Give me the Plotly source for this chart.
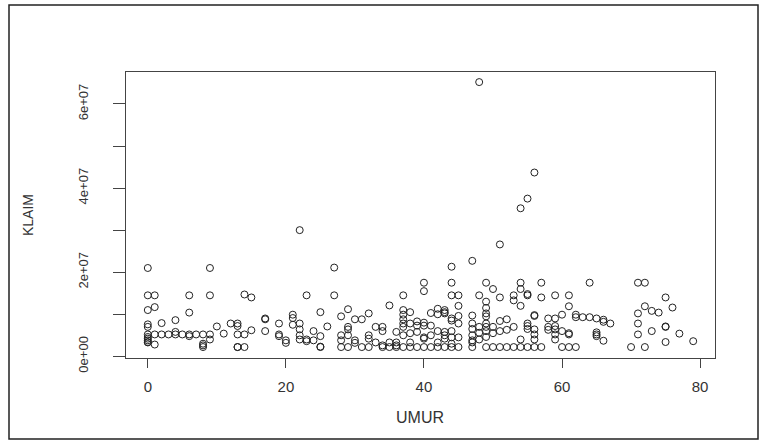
import plotly.graph_objects as go

# UMUR (age) -> list of KLAIM values (in millions)
klaim_by_umur = {
    0: [21, 14.5, 11, 7.6, 7.0, 5.2, 4.6, 4.2, 3.8, 3.4, 3.3],
    1: [14.5, 11.7, 5.2, 2.8],
    2: [7.9, 5.2],
    3: [5.2],
    4: [8.6, 5.8, 5.2],
    5: [5.2],
    6: [14.5, 10.4, 5.2, 4.8],
    7: [5.2],
    8: [5.2, 3.0, 2.6, 2.2],
    9: [21, 14.5, 5.2, 4.0],
    10: [7.1],
    11: [5.4],
    12: [7.8],
    13: [7.8, 7.2, 5.2, 2.2, 2.2],
    14: [14.7, 5.2, 2.2],
    15: [14.0, 6.2],
    17: [9.0, 8.8, 6.0],
    19: [7.8, 5.2, 4.8],
    20: [3.8, 3.2],
    21: [9.9, 9.1, 7.5],
    22: [30, 7.8, 6.4, 5.0, 4.0],
    23: [14.5, 4.0, 3.6],
    24: [6.0, 3.8],
    25: [10.5, 4.8, 2.3, 2.2],
    26: [7.1],
    27: [21.1, 14.5],
    28: [9.5, 5.0, 3.8, 2.2],
    29: [11.2, 7.0, 6.4, 5.0, 2.2],
    30: [8.8, 3.8, 3.2],
    31: [8.8, 2.2],
    32: [10.2, 5.0, 4.2, 2.2],
    33: [7.0, 3.3],
    34: [7.0, 6.0, 2.6, 2.2],
    35: [12.1, 3.3, 2.2],
    36: [5.8, 3.3, 2.6, 2.2],
    37: [14.5, 11.0, 9.9, 8.8, 7.8, 7.0, 5.0, 2.2],
    38: [10.5, 7.8, 5.5, 3.3, 2.2],
    39: [8.3, 7.3, 5.8, 2.2],
    40: [17.5, 15.5, 8.0, 7.3, 4.5, 4.2, 2.2],
    41: [10.3, 7.3, 5.0, 2.2],
    42: [11.3, 10.0, 6.0, 3.3, 2.2],
    43: [11.0, 10.5, 10.2, 5.8, 5.0, 4.2, 2.2],
    44: [21.3, 17.5, 14.5, 9.0, 8.5, 6.0, 4.5, 3.0, 2.2],
    45: [14.5, 12.0, 9.6, 7.8, 4.5, 2.2],
    47: [22.7, 9.7, 7.8, 6.5, 5.0, 3.8, 3.3, 2.2],
    48: [65.2, 14.5, 7.0, 5.6, 4.0],
    49: [17.5, 13.0, 11.5, 10.2, 9.5, 7.8, 7.0, 6.0, 4.6, 2.2],
    50: [16.0, 7.0, 5.5, 2.2],
    51: [26.6, 14.0, 8.4, 6.0, 2.2],
    52: [8.8, 6.3, 2.2],
    53: [14.5, 13.3, 7.0, 2.2],
    54: [35.2, 17.5, 16.0, 12.0, 4.0, 2.2],
    55: [37.5, 14.8, 14.5, 7.8, 7.2, 6.5, 2.2],
    56: [43.7, 9.8, 9.6, 6.4, 5.2, 4.0, 2.2],
    57: [17.5, 14.0, 2.2],
    58: [9.0, 7.0, 6.3],
    59: [14.5, 9.0, 7.2, 6.4, 5.2, 4.0],
    60: [9.9, 6.0, 2.2],
    61: [14.5, 11.9, 5.5, 5.2, 2.2],
    62: [9.9, 9.3, 2.2],
    63: [9.3],
    64: [17.5, 9.3],
    65: [9.0, 5.7, 5.2, 4.8],
    66: [8.7, 8.2, 3.7],
    67: [7.8],
    70: [2.2],
    71: [17.5, 10.2, 7.8, 5.2],
    72: [17.5, 11.9, 2.2],
    73: [10.8, 6.0],
    74: [10.4],
    75: [14.0, 7.1, 7.0, 3.4],
    76: [11.6],
    77: [5.4],
    79: [3.6],
}

umur = []
klaim = []
for age, vals in klaim_by_umur.items():
    for v in vals:
        umur.append(age)
        klaim.append(v * 1e6)

x_ticks = [0, 20, 40, 60, 80]
y_ticks = [0, 1e7, 2e7, 3e7, 4e7, 5e7, 6e7]
y_tick_text = ["0e+00", "", "2e+07", "", "4e+07", "", "6e+07"]

axis_col = "#444444"
text_col = "#333333"

fig = go.Figure()
fig.add_trace(go.Scatter(
    x=umur, y=klaim, mode="markers",
    marker=dict(symbol="circle-open", size=7, color="#222222",
                line=dict(width=1, color="#222222")),
    showlegend=False, hoverinfo="x+y",
))

L, R, T, B = 126, 48, 72, 83
W, H = 763, 441
pw, ph = W - L - R, H - T - B

fig.update_layout(
    width=W, height=H,
    margin=dict(l=L, r=R, t=T, b=B),
    paper_bgcolor="white", plot_bgcolor="white",
    font=dict(family="Liberation Sans, Arial, sans-serif", color=text_col),
    xaxis=dict(
        range=[-3.16, 82.16], tickvals=x_ticks, ticktext=[str(t) for t in x_ticks],
        ticks="outside", ticklen=9, tickcolor=axis_col, tickwidth=1,
        showline=True, linecolor=axis_col, linewidth=1, mirror=True,
        showgrid=False, zeroline=False, tickfont=dict(size=15, color=text_col),
        ticklabelstandoff=6,
    ),
    yaxis=dict(
        range=[-0.04e7, 6.76e7], tickvals=y_ticks, ticktext=y_tick_text,
        ticks="outside", ticklen=12, tickcolor=axis_col, tickwidth=1,
        showline=True, linecolor=axis_col, linewidth=1, mirror=True,
        showgrid=False, zeroline=False, tickangle=-90,
        tickfont=dict(size=13, color=text_col), ticklabelstandoff=20,
    ),
    shapes=[dict(
        type="rect", xref="paper", yref="paper",
        x0=(9 - L) / pw, x1=(758 - L) / pw,
        y0=(H - B - 439) / ph, y1=(H - B - 5) / ph,
        line=dict(color="#222222", width=1.5), fillcolor="rgba(0,0,0,0)",
        layer="below",
    )],
    annotations=[
        dict(text="UMUR", xref="paper", yref="paper",
             x=(420 - L) / pw, y=(H - B - 417) / ph,
             showarrow=False, font=dict(size=16, color=text_col),
             xanchor="center", yanchor="middle"),
        dict(text="KLAIM", xref="paper", yref="paper",
             x=(28 - L) / pw, y=(H - B - 215) / ph, textangle=-90,
             showarrow=False, font=dict(size=14, color=text_col),
             xanchor="center", yanchor="middle"),
    ],
)

fig.write_html("out.html")
